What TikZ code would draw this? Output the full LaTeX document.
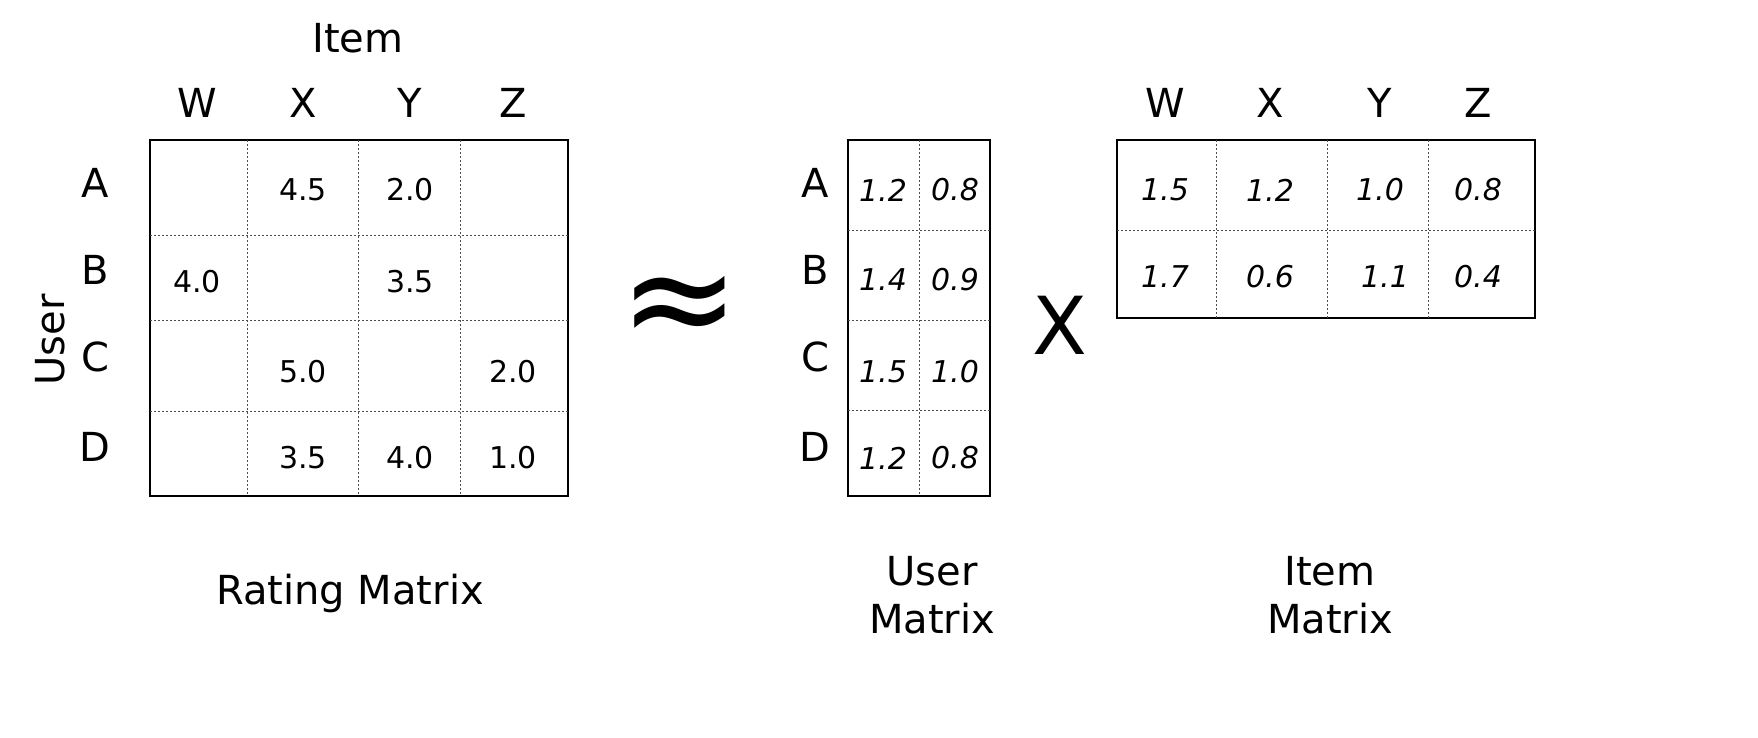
\documentclass[tikz,border=0pt]{standalone}
\usepackage{fontspec}
\setmainfont{DejaVu Sans}
\begin{document}
\begin{tikzpicture}[x=0.5pt,y=-0.5pt]
\tikzset{
 lab/.style={font=\fontsize{20}{24}\selectfont},
 num/.style={font=\fontsize{15}{18}\selectfont},
 inum/.style={font=\fontsize{15}{18}\selectfont\itshape},
 grid/.style={black!70,line width=0.4pt,dash pattern=on 1.2pt off 0.8pt},
 frame/.style={draw,line width=0.9pt}
}
\useasboundingbox (0,0) rectangle (1758,738);
% Rating matrix
\node[frame,minimum width=209pt,minimum height=178pt,inner sep=0] (R) at (359,318) {};
\foreach \x in {247,358,460} \draw[grid] (\x,140) -- (\x,496);
\foreach \y in {235,320,411} \draw[grid] (150,\y) -- (568,\y);
\node[lab] (item) at (358,38) {Item};
\foreach \t/\x in {W/197,X/303,Y/410,Z/513} \node[lab] (rh\t) at (\x,103) {\t};
\foreach \t/\y in {A/183,B/270,C/357,D/447} \node[lab] (rr\t) at (95,\y) {\t};
\node[lab,rotate=90] (user) at (50,340) {User};
\node[lab] (rm) at (350,593) {Rating Matrix};
\foreach \v/\x/\y [count=\i] in {4.5/303/190,2.0/410/190,4.0/197/282,3.5/410/282,5.0/303/372,2.0/513/372,3.5/303/458,4.0/410/458,1.0/513/458}
  \node[num] (rv\i) at (\x,\y) {\v};
\node[font=\fontsize{72}{72}\selectfont] (approx) at (680,312) {≈};
% User matrix
\node[frame,minimum width=71pt,minimum height=178pt,inner sep=0] (U) at (919,318) {};
\draw[grid] (919,140) -- (919,496);
\foreach \y in {230,320,410} \draw[grid] (848,\y) -- (990,\y);
\foreach \t/\y in {A/183,B/270,C/357,D/447} \node[lab] (ur\t) at (815,\y) {\t};
\foreach \a/\b/\y [count=\i] in {1.2/0.8/190,1.4/0.9/280,1.5/1.0/372,1.2/0.8/458}{
  \node[inum] (ua\i) at (883,\y) {\a};
  \node[inum] (ub\i) at (955,\y) {\b};}
\node[lab,align=center] (um) at (932,595) {User\\Matrix};
\node[font=\fontsize{40}{40}\selectfont] (times) at (1060,325) {X};
% Item matrix
\node[frame,minimum width=209pt,minimum height=89pt,inner sep=0] (I) at (1326,229) {};
\foreach \x in {1216,1327,1428} \draw[grid] (\x,140) -- (\x,318);
\draw[grid] (1117,230) -- (1535,230);
\foreach \t/\x in {W/1165,X/1270,Y/1380,Z/1478} \node[lab] (ih\t) at (\x,103) {\t};
\foreach \v/\x/\y [count=\i] in {1.5/1165/190,1.2/1270/190,1.0/1380/190,0.8/1478/190,1.7/1165/277,0.6/1270/277,1.1/1385/277,0.4/1478/277}
  \node[inum] (iv\i) at (\x,\y) {\v};
\node[lab,align=center] (im) at (1330,595) {Item\\Matrix};
\end{tikzpicture}
\end{document}
